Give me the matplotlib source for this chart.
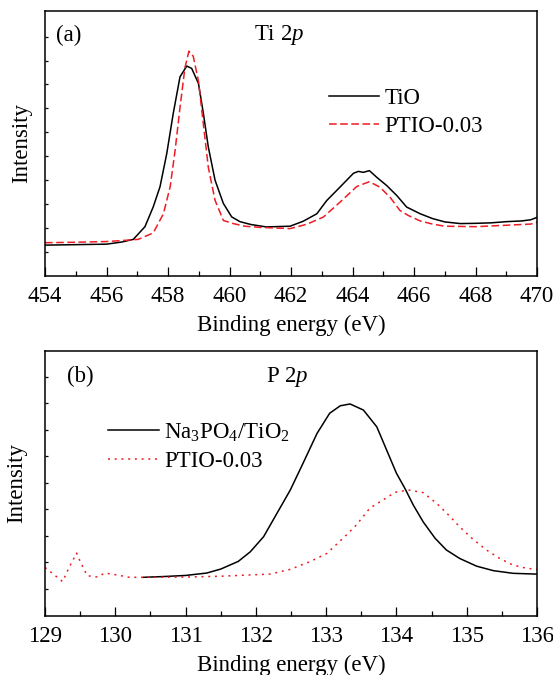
import matplotlib
matplotlib.use("Agg")
import matplotlib.pyplot as plt
from matplotlib.ticker import MultipleLocator

plt.rcParams['font.family'] = ['Liberation Serif', 'DejaVu Serif']
plt.rcParams['mathtext.fontset'] = 'custom'
plt.rcParams['mathtext.rm'] = 'Liberation Serif'
plt.rcParams['mathtext.it'] = 'Liberation Serif:italic'

# ---- Panel (a): Ti 2p ----
ti_x_tio = [454, 455, 456, 456.5, 456.87, 457.25, 457.52, 457.74, 457.96, 458.17, 458.39,
            458.61, 458.77, 458.99, 459.15, 459.31, 459.53, 459.8, 460.07, 460.34, 460.7,
            461.2, 461.97, 462.4, 462.84, 463.16, 463.59, 464.03, 464.19, 464.35, 464.55,
            464.79, 465.11, 465.44, 465.76, 466.2, 466.6, 467, 467.5, 468, 468.5, 469,
            469.5, 469.8, 470]
ti_y_tio = [1.29, 1.31, 1.33, 1.42, 1.53, 2.06, 2.89, 3.73, 5.12, 6.79, 8.32,
            8.77, 8.67, 8.04, 6.79, 5.39, 4.0, 3.03, 2.47, 2.27, 2.15,
            2.05, 2.08, 2.29, 2.6, 3.15, 3.71, 4.29, 4.37, 4.33, 4.4,
            4.12, 3.78, 3.36, 2.88, 2.6, 2.4, 2.26, 2.19, 2.2, 2.22, 2.27,
            2.3, 2.35, 2.45]
ti_x_ptio = [454, 455, 456, 456.5, 457.03, 457.52, 457.85, 458.07, 458.23, 458.39, 458.55,
             458.68, 458.82, 458.99, 459.15, 459.31, 459.53, 459.8, 460.12, 460.5, 461,
             461.97, 462.51, 463.05, 463.59, 464.14, 464.55, 464.89, 465.22, 465.54,
             465.81, 466.2, 466.6, 467, 468, 469, 469.8, 470]
ti_y_ptio = [1.39, 1.41, 1.44, 1.48, 1.53, 1.8, 2.6, 3.73, 5.24, 7.04, 8.7,
             9.39, 9.18, 8.14, 6.34, 4.54, 3.16, 2.32, 2.19, 2.08, 2.03,
             1.98, 2.16, 2.46, 3.08, 3.74, 3.94, 3.71, 3.29, 2.74,
             2.53, 2.3, 2.17, 2.08, 2.06, 2.12, 2.17, 2.24]

# ---- Panel (b): P 2p ----
p_x_na = [130.4, 130.7, 131.0, 131.3, 131.5, 131.75, 131.92, 132.11, 132.30, 132.49, 132.67,
          132.87, 133.05, 133.2, 133.34, 133.53, 133.72, 133.77, 133.88, 134.0, 134.12,
          134.24, 134.38, 134.55, 134.71, 134.9, 135.14, 135.38, 135.66, 136]
p_y_na = [1.44, 1.47, 1.51, 1.6, 1.75, 2.04, 2.4, 2.97, 3.85, 4.73, 5.73,
          6.86, 7.62, 7.9, 7.97, 7.74, 7.11, 6.8, 6.11, 5.36, 4.79,
          4.16, 3.53, 2.91, 2.47, 2.15, 1.86, 1.69, 1.59, 1.56]
p_x_ptio = [129.0, 129.1, 129.25, 129.35, 129.45, 129.5, 129.6, 129.75, 129.85, 130.0,
            130.2, 130.5, 131, 131.5, 131.92, 132.2, 132.49, 132.77, 133.01, 133.24, 133.43,
            133.62, 133.77, 133.98, 134.17, 134.38, 134.57, 134.74, 134.9, 135.09, 135.28,
            135.47, 135.66, 135.85, 136]
p_y_ptio = [1.81, 1.6, 1.28, 1.85, 2.35, 2.04, 1.5, 1.45, 1.6, 1.54,
            1.44, 1.44, 1.45, 1.48, 1.53, 1.56, 1.74, 2.03, 2.34, 2.91, 3.41,
            4.04, 4.29, 4.64, 4.73, 4.63, 4.23, 3.79, 3.34, 2.87, 2.47,
            2.15, 1.9, 1.78, 1.74]

fig = plt.figure(figsize=(5.53, 6.75), dpi=100)
axa = fig.add_axes([0.0814, 0.5911, 0.8897, 0.393])
axb = fig.add_axes([0.0814, 0.0881, 0.8897, 0.3923])

FS = 16.5
RED = '#ee1c25'

def style(ax, xmin, xmax, major, minor, ymax, yticks):
    ax.set_xlim(xmin, xmax)
    ax.set_ylim(0, ymax)
    ax.xaxis.set_major_locator(MultipleLocator(major))
    ax.xaxis.set_minor_locator(MultipleLocator(minor))
    ax.set_yticks(yticks)
    ax.set_yticklabels([])
    ax.tick_params(axis='x', which='major', direction='in', length=6.5, width=0.9,
                   labelsize=FS, pad=7.5, top=False)
    ax.tick_params(axis='x', which='minor', direction='in', length=3.8, width=0.9, top=False)
    ax.tick_params(axis='y', which='major', direction='in', length=2.5, width=0.9, right=False)
    for s in ax.spines.values():
        s.set_linewidth(1.1)
    ax.set_xlabel('Binding energy (eV)', fontsize=FS, labelpad=5.6)

style(axa, 454, 470, 2, 1, 11.08, list(range(1, 11)))
axa.plot(ti_x_tio, ti_y_tio, color='black', lw=1.1, label='TiO')
axa.plot(ti_x_ptio, ti_y_ptio, color=RED, lw=1.1, dashes=(5, 2.3), label='PTIO-0.03')
axa.set_ylabel('Intensity', fontsize=FS, labelpad=5.5)
axa.text(0.022, 0.908, '(a)', transform=axa.transAxes, fontsize=FS, va='center', ha='left')
axa.text(0.425, 0.908, r'Ti 2$\it{p}$', transform=axa.transAxes, fontsize=FS, va='center', ha='left')
axa.legend(loc='upper left', bbox_to_anchor=(0.578, 0.708), frameon=False, fontsize=FS,
           handlelength=2.16, handletextpad=0.23, labelspacing=0.31, borderpad=0, borderaxespad=0)

style(axb, 129, 136, 1, 0.5, 9.975, list(range(1, 10)))
axb.plot(p_x_na, p_y_na, color='black', lw=1.1, label=r'Na$_3$PO$_4$/TiO$_2$')
axb.plot(p_x_ptio, p_y_ptio, color=RED, lw=1.1, dashes=(1.3, 3.1), label='PTIO-0.03')
axb.set_ylabel('Intensity', fontsize=FS, labelpad=9)
axb.text(0.045, 0.902, '(b)', transform=axb.transAxes, fontsize=FS, va='center', ha='left')
axb.text(0.45, 0.902, r'P 2$\it{p}$', transform=axb.transAxes, fontsize=FS, va='center', ha='left')
axb.legend(loc='upper left', bbox_to_anchor=(0.129, 0.733), frameon=False, fontsize=FS,
           handlelength=2.2, handletextpad=0.23, labelspacing=0.31, borderpad=0, borderaxespad=0)

fig.savefig('out.png', dpi=100)
